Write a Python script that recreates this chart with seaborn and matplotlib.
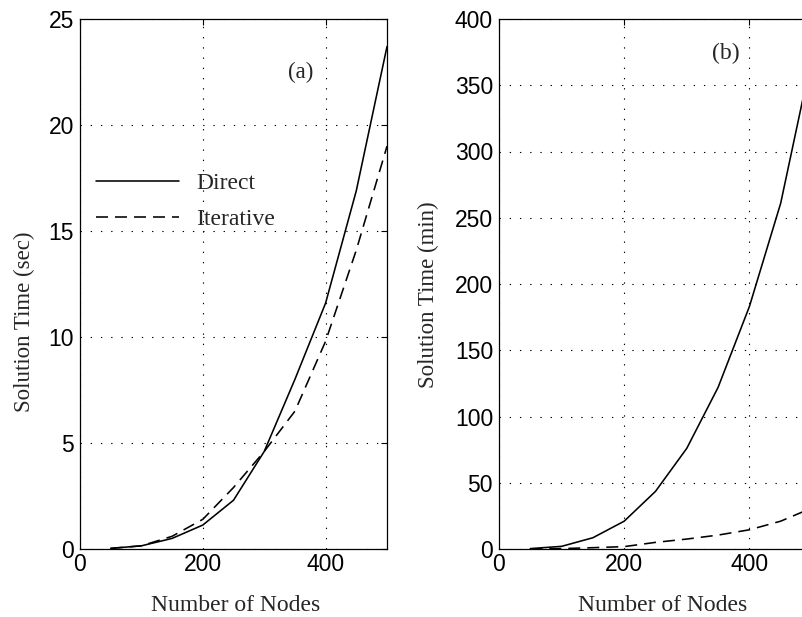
import numpy as np
import pandas as pd
import seaborn as sns
import matplotlib
matplotlib.use("Agg")
import matplotlib.pyplot as plt

# ---- data ----
nodes = [50, 100, 150, 200, 250, 300, 350, 400, 450, 500]
direct_sec = [0.03, 0.15, 0.5, 1.13, 2.3, 4.6, 8.0, 11.6, 16.9, 23.7]
iterative_sec = [0.03, 0.15, 0.6, 1.4, 2.9, 4.6, 6.5, 9.8, 14.1, 19.0]
direct_min = [0.3, 2.0, 8.5, 21.0, 43.5, 76.0, 122.0, 183.0, 261.0, 372.0]
iterative_min = [0.05, 0.3, 1.0, 1.8, 5.0, 7.5, 10.5, 14.5, 21.0, 31.0]
series_names = ["Direct", "Iterative"]
xticks = [0, 200, 400]
yticks_a = [0, 5, 10, 15, 20, 25]
yticks_b = [0, 50, 100, 150, 200, 250, 300, 350, 400]

df_a = pd.DataFrame({
    "Number of Nodes": nodes * 2,
    "time": direct_sec + iterative_sec,
    "Method": [series_names[0]] * len(nodes) + [series_names[1]] * len(nodes),
})
df_b = pd.DataFrame({
    "Number of Nodes": nodes * 2,
    "time": direct_min + iterative_min,
    "Method": [series_names[0]] * len(nodes) + [series_names[1]] * len(nodes),
})

sns.set_style("white")
plt.rcParams["font.family"] = ["Liberation Sans", "DejaVu Sans"]
serif = ["Liberation Serif", "DejaVu Serif"]

fig = plt.figure(figsize=(8.03, 6.17), dpi=100)
W, H = 803, 617
ax_a = fig.add_axes([80 / W, (H - 549) / H, 307 / W, 530 / H])
ax_b = fig.add_axes([499 / W, (H - 549) / H, 313 / W, 530 / H])

dash_styles = {"Direct": "", "Iterative": (7.5, 4.4)}

panels = [
    (ax_a, df_a, yticks_a, "Solution Time (sec)", (-0.147, 0.428), (0.508, -0.087)),
    (ax_b, df_b, yticks_b, "Solution Time (min)", (-0.19, 0.479), (0.524, -0.087)),
]
for ax, df, yt, ylab, ylc, xlc in panels:
    sns.lineplot(data=df, x="Number of Nodes", y="time", style="Method",
                 dashes=dash_styles, color="black", linewidth=1.15, ax=ax,
                 legend=(ax is ax_a))
    ax.set_xlim(0, 500)
    ax.set_ylim(yt[0], yt[-1])
    ax.set_xticks(xticks)
    ax.set_yticks(yt)
    ax.tick_params(axis="both", which="both", direction="in", length=4,
                   width=0.8, top=True, right=True, labelsize=16.5,
                   colors="black")
    ax.tick_params(axis="y", pad=4.3)
    ax.tick_params(axis="x", pad=3)
    ax.grid(True, color="black", linestyle=(0, (1.2, 8)), linewidth=0.8)
    for s in ax.spines.values():
        s.set_visible(True)
        s.set_color("black")
        s.set_linewidth(0.9)
    ax.set_xlabel("Number of Nodes", fontfamily=serif, fontsize=17)
    ax.set_ylabel(ylab, fontfamily=serif, fontsize=16.5)
    ax.yaxis.set_label_coords(*ylc)
    ax.xaxis.set_label_coords(*xlc)

leg = ax_a.legend(loc="upper left", bbox_to_anchor=(0.052, 0.71), frameon=False,
                  prop={"family": serif, "size": 17}, handlelength=3.5,
                  handletextpad=0.76, labelspacing=0.6, borderpad=0,
                  borderaxespad=0)
leg.set_title(None)

ax_a.text((301 - 80) / 307, (549 - 72) / 530, "(a)", transform=ax_a.transAxes,
          ha="center", va="center", fontfamily=serif, fontsize=16.5)
ax_b.text((726 - 499) / 313, (549 - 53) / 530, "(b)", transform=ax_b.transAxes,
          ha="center", va="center", fontfamily=serif, fontsize=17)

fig.savefig("out.png", dpi=100)
